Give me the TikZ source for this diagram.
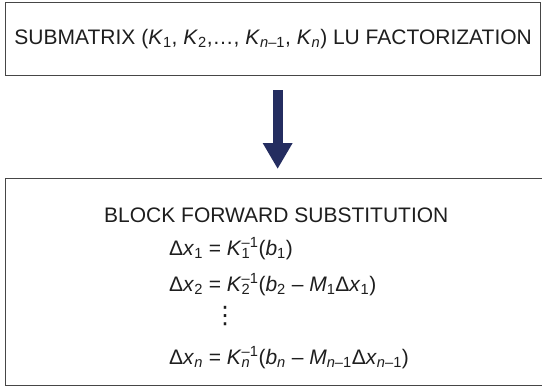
\documentclass[tikz,border=0pt]{standalone}
\usepackage{fontspec}
\setmainfont{Liberation Sans}
\newfontfamily\symfont{DejaVu Sans}
\usetikzlibrary{arrows.meta, positioning, calc}
\definecolor{LUNavy}{RGB}{36, 45, 96}
\definecolor{LUBorder}{RGB}{70, 70, 70}
\definecolor{LUText}{RGB}{30, 30, 30}

% K with stacked sub- and superscript
\newcommand{\kinv}[1]{\textit{K}\rlap{\textsubscript{#1}}\textsuperscript{--1}}

\tikzset{
  boxframe/.style={draw=LUBorder, line width=1.3pt, rectangle, inner sep=0pt},
  boxtext/.style={text=LUText, font=\fontsize{21}{25}\selectfont, inner sep=0pt},
  flowarrow/.style={draw=LUNavy, line width=10pt,
    -{Triangle[width=28pt, length=26pt, fill=LUNavy]}}
}

\begin{document}
\begin{tikzpicture}[x=1pt,y=-1pt]
  \path[use as bounding box] (0,0) rectangle (542,386);

  \node[boxframe, boxtext, anchor=north west, minimum width=535pt, minimum height=73pt] (lubox) at (5,2)
    {SUBMATRIX (\textit{K}\textsubscript{1}, \textit{K}\textsubscript{2},\dots, \textit{K}\textsubscript{\textit{n}--1}, \textit{K}\textsubscript{\textit{n}}) LU FACTORIZATION};

  \node[boxframe, anchor=north west, minimum width=580pt, minimum height=207pt] (fwdbox) at (5,178) {};

  \node[boxtext, anchor=base west] (fwdtitle) at (104,222) {BLOCK FORWARD SUBSTITUTION};
  \node[boxtext, anchor=base west] (eqone) at (169,255)
    {Δ\textit{x}\textsubscript{1} = \kinv{1}(\textit{b}\textsubscript{1})};
  \node[boxtext, anchor=base west] (eqtwo) at (169,291)
    {Δ\textit{x}\textsubscript{2} = \kinv{2}(\textit{b}\textsubscript{2} -- \textit{M}\textsubscript{1}Δ\textit{x}\textsubscript{1})};
  \node[boxtext, font=\symfont\fontsize{24}{26}\selectfont] (eqdots) at (225,316) {⋮};
  \node[boxtext, anchor=base west] (eqn) at (169,364)
    {Δ\textit{x}\textsubscript{\textit{n}} = \kinv{\textit{n}}(\textit{b}\textsubscript{\textit{n}} -- \textit{M}\textsubscript{\textit{n}--1}Δ\textit{x}\textsubscript{\textit{n}--1})};

  \coordinate (arrowtop) at ([xshift=4.5pt,yshift=-14pt]lubox.south);
  \draw[flowarrow] (arrowtop) -- ([yshift=9pt]arrowtop |- fwdbox.north);
\end{tikzpicture}
\end{document}
